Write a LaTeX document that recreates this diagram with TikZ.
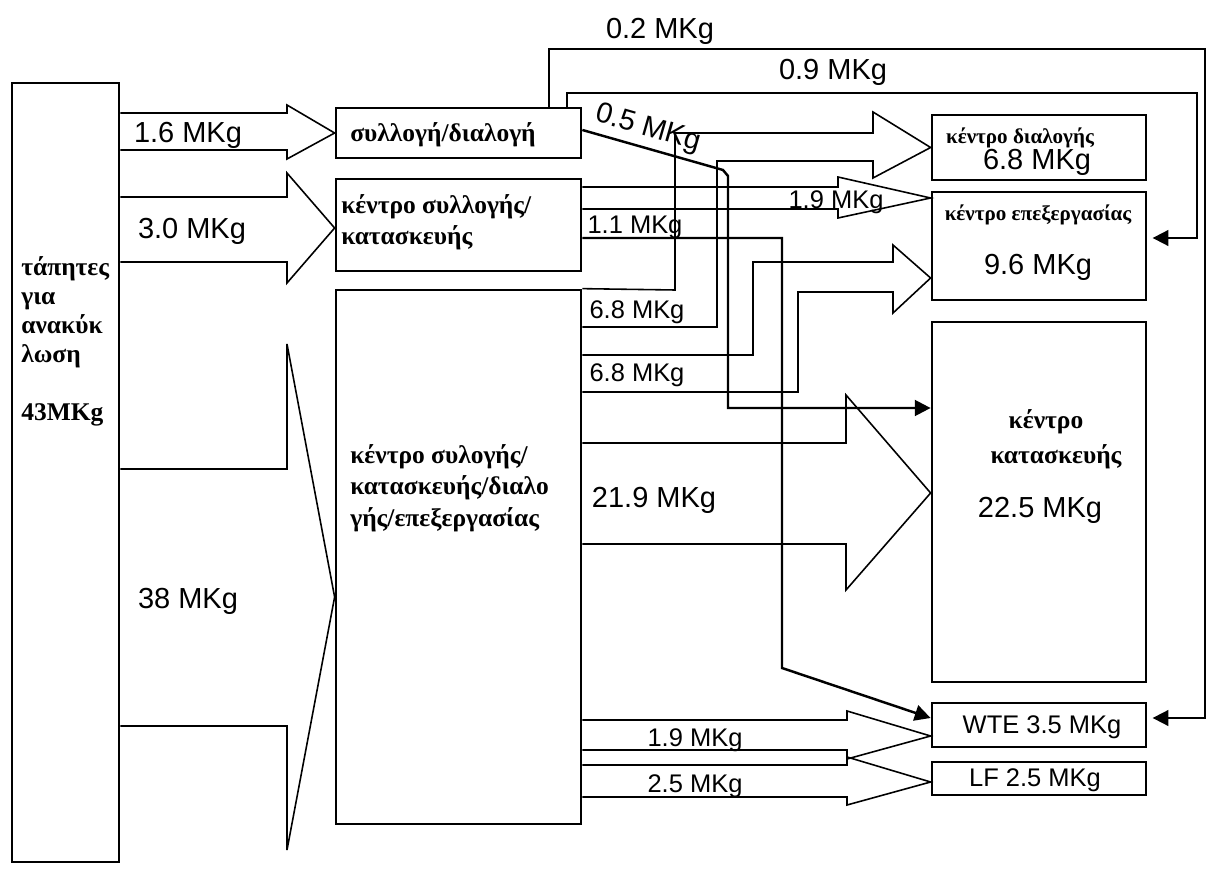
\documentclass[tikz,border=0pt]{standalone}
\usepackage{fontspec}
\setmainfont{Liberation Serif}
\setsansfont{Liberation Sans}
\usetikzlibrary{arrows.meta, calc}

\begin{document}
\begin{tikzpicture}[x=0.02cm, y=-0.02cm,
    box/.style={rectangle, draw, line width=1.6pt, inner sep=0pt},
    greek/.style={font=\bfseries\fontsize{14.5}{18}\selectfont, align=left, inner sep=0pt},
    greeksmall/.style={font=\bfseries\fontsize{12}{14}\selectfont, inner sep=0pt},
    mass/.style={font=\sffamily\fontsize{16.5}{18}\selectfont, inner sep=0pt},
    masssmall/.style={font=\sffamily\fontsize{14.5}{16}\selectfont, inner sep=0pt},
    band/.style={line width=0.9pt, line join=miter},
    flow/.style={line width=1.1pt, -{Triangle[length=9pt, width=9pt]}},
    heavyflow/.style={flow, line width=1.4pt}
]
\useasboundingbox (0,0) rectangle (1211,871);

\node[box, minimum width=2.14cm, minimum height=15.58cm] (src) at (65.5,472.5) {};
\node[box, minimum width=4.9cm, minimum height=1cm] (sd) at (458.5,133) {};
\node[box, minimum width=4.9cm, minimum height=1.84cm] (ksk) at (458.5,225) {};
\node[box, minimum width=4.9cm, minimum height=10.68cm] (big) at (458.5,557) {};
\node[box, minimum width=4.28cm, minimum height=1.3cm] (kd) at (1039,147.5) {};
\node[box, minimum width=4.28cm, minimum height=2.16cm] (ke) at (1039,246) {};
\node[box, minimum width=4.28cm, minimum height=7.2cm] (kk) at (1039,502) {};
\node[box, minimum width=4.28cm, minimum height=0.88cm] (wte) at (1039,725) {};
\node[box, minimum width=4.28cm, minimum height=0.66cm] (lf) at (1039,778.5) {};

\node[greek, font=\bfseries\fontsize{14.5}{16.5}\selectfont, anchor=north west] (srctext) at (21,256) {τάπητες\\για\\ανακύκ\\λωση\\[16.5pt]43MKg};
\node[greek] (sdtext) at (443,135) {συλλογή/διαλογή};
\node[greek, anchor=north west] (ksktext) at (341,194) {κέντρο συλλογής/\\κατασκευής};
\node[greek, anchor=north west] (bigtext) at (350,444) {κέντρο συλογής/\\κατασκευής/διαλο\\γής/επεξεργασίας};
\node[greeksmall] (kdtext) at (1020,138) {κέντρο διαλογής};
\node[mass] (kdmass) at (1037,162) {6.8 MKg};
\node[greeksmall] (ketext) at (1038,215) {κέντρο επεξεργασίας};
\node[mass] (kemass) at (1038,267) {9.6 MKg};
\node[greek] (kktext1) at (1046,422) {κέντρο};
\node[greek] (kktext2) at (1056,457) {κατασκευής};
\node[mass] (kkmass) at (1040,510) {22.5 MKg};
\node[masssmall] (wtetext) at (1042,727) {WTE 3.5 MKg};
\node[masssmall] (lftext) at (1035,780) {LF 2.5 MKg};

\draw[band] (src.east |- 0,113) -- (287,113) -- (287,105) -- (sd.west) -- (287,159) -- (287,150) -- (src.east |- 0,150);
\draw[band] (src.east |- 0,197) -- (287,197) -- (287,173) -- (ksk.west |- 0,228) -- (287,283) -- (287,262) -- (src.east |- 0,262);
\draw[band] (src.east |- 0,469) -- (287,469) -- (287,344) -- (big.west |- 0,597) -- (287,850) -- (287,726) -- (src.east |- 0,726);

\draw[band] (ksk.east |- 0,187) -- (838,187) -- (838,177) -- (ke.west |- 0,198) -- (838,218) -- (838,209) -- (ksk.east |- 0,209);
\draw[band] (big.north east) -- (675,290) -- (675,133) -- (873,133) -- (873,112) -- (kd.west) -- (873,178) -- (873,161) -- (717,161) -- (717,327) -- (big.east |- 0,327);
\draw[band] (big.east |- 0,355) -- (753,355) -- (753,262) -- (893,262) -- (893,245) -- (ke.west |- 0,278) -- (893,313) -- (893,292) -- (798,292) -- (798,392) -- (big.east |- 0,392);
\draw[band] (big.east |- 0,443) -- (846,443) -- (846,395) -- (kk.west |- 0,493) -- (846,590) -- (846,544) -- (big.east |- 0,544);
\draw[band] (big.east |- 0,720) -- (847,720) -- (847,711) -- (wte.west |- 0,736) -- (847,759) -- (847,750) -- (big.east |- 0,750);
\draw[band] (big.east |- 0,765) -- (847,765) -- (847,757) -- (lf.west |- 0,782) -- (847,805) -- (847,797) -- (big.east |- 0,797);

\draw[flow, shorten >=3pt] (sd.north -| 549,0) |- (1205,49) |- (wte.east |- 0,718);
\draw[flow, shorten >=3pt] (sd.north -| 567,0) |- (1197,93) |- (ke.east |- 0,238);
\draw[heavyflow] (sd.east |- 0,130) -- (723,170) -- (728,176) -- (728,408) -- (kk.west |- 0,408);
\draw[heavyflow] (ksk.east |- 0,238) -| (782,668) -- (wte.west |- 0,718);

\node[mass] (m16) at (188,135) {1.6 MKg};
\node[mass] (m30) at (192,231) {3.0 MKg};
\node[mass] (m38) at (188,601) {38 MKg};
\node[mass] (m02) at (660,31) {0.2 MKg};
\node[mass] (m09) at (833,72) {0.9 MKg};
\node[mass, rotate=-16] (m05) at (648,129) {0.5 MKg};
\node[masssmall] (m11) at (635,227) {1.1 MKg};
\node[masssmall] (m19a) at (836,202) {1.9 MKg};
\node[masssmall] (m68a) at (637,312) {6.8 MKg};
\node[masssmall] (m68b) at (637,375) {6.8 MKg};
\node[mass] (m219) at (654,500) {21.9 MKg};
\node[masssmall] (m19b) at (695,740) {1.9 MKg};
\node[masssmall] (m25) at (695,786) {2.5 MKg};
\end{tikzpicture}
\end{document}
